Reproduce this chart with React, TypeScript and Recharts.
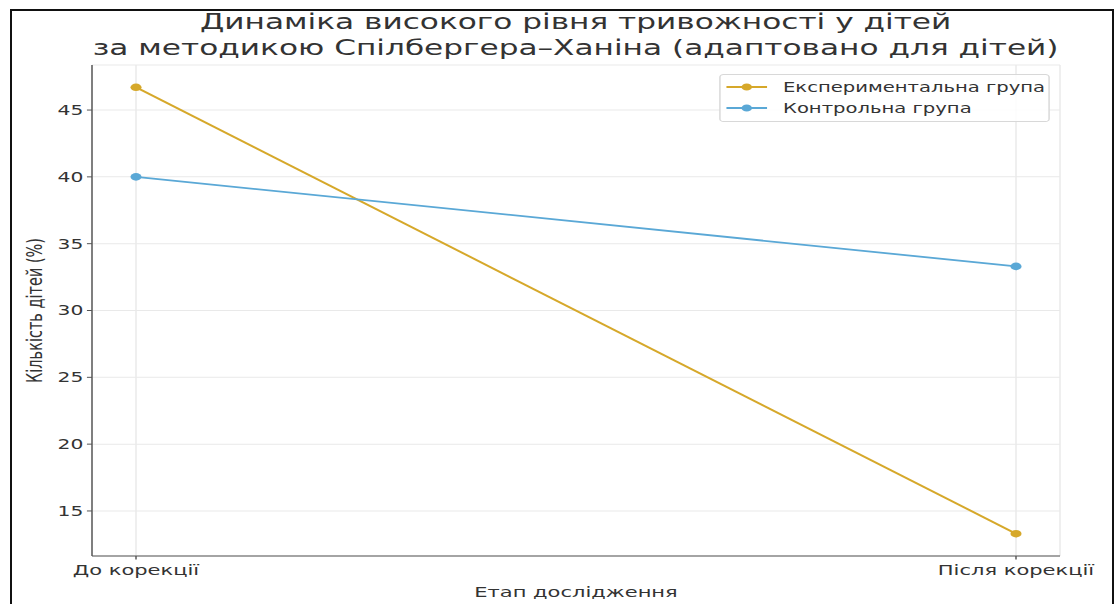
import React from "react";
import {
  LineChart,
  Line,
  XAxis,
  YAxis,
  CartesianGrid,
  Legend,
} from "recharts";

const stages = ["До корекції", "Після корекції"];
const experimentalGroup = [46.7, 13.3];
const controlGroup = [40.0, 33.3];
const yTicks = [15, 20, 25, 30, 35, 40, 45];

const titleLines = [
  "Динаміка високого рівня тривожності у дітей",
  "за методикою Спілбергера–Ханіна (адаптовано для дітей)",
];

const EXP_COLOR = "#d6a82a";
const CTRL_COLOR = "#5aa8d6";
const AXIS_COLOR = "#555";
const TEXT_COLOR = "#333";
const FONT = "'DejaVu Sans', sans-serif";

// The figure is drawn narrow and stretched sideways as a whole.
const STRETCH = 1.45;
const W = 1118 / STRETCH;
const H = 604;

const rows = stages.map((name, i) => ({
  stage: i,
  name,
  experimental: experimentalGroup[i],
  control: controlGroup[i],
}));

// matplotlib-style 5% margins around the data
const allValues = [...experimentalGroup, ...controlGroup];
const yMin = Math.min(...allValues);
const yMax = Math.max(...allValues);
const yPad = (yMax - yMin) * 0.05;

function XTick({ x, y, payload }: any) {
  const nx = Number(x);
  const ny = Number(y);
  return (
    <g>
      <line x1={nx} x2={nx} y1={ny} y2={ny + 3.5} stroke={AXIS_COLOR} />
      <text
        x={nx}
        y={ny + 19}
        textAnchor="middle"
        fontSize={14.5}
        fill={TEXT_COLOR}
        fontFamily={FONT}
      >
        {stages[payload.value]}
      </text>
    </g>
  );
}

function YTick({ x, y, payload }: any) {
  const nx = Number(x);
  const ny = Number(y);
  return (
    <g>
      <line x1={nx - 3.5} x2={nx} y1={ny} y2={ny} stroke={AXIS_COLOR} />
      <text
        x={nx - 6}
        y={ny + 5}
        textAnchor="end"
        fontSize={14}
        fill={TEXT_COLOR}
        fontFamily={FONT}
      >
        {payload.value}
      </text>
    </g>
  );
}

function LegendBox({ payload }: any) {
  return (
    <div
      style={{
        border: "1px solid #d8d8d8",
        borderRadius: 3,
        background: "rgba(255,255,255,0.85)",
        padding: "1px 0 3px 3px",
        fontFamily: FONT,
      }}
    >
      {(payload ?? []).map((entry: any) => (
        <div
          key={entry.value}
          style={{ display: "flex", alignItems: "center", height: 21 }}
        >
          <svg width={30} height={10}>
            <line x1={1} x2={29} y1={5} y2={5} stroke={entry.color} strokeWidth={1.8} />
            <circle cx={15} cy={5} r={3.6} fill={entry.color} />
          </svg>
          <span style={{ marginLeft: 10, fontSize: 13.5, color: TEXT_COLOR }}>
            {entry.value}
          </span>
        </div>
      ))}
    </div>
  );
}

export default function App() {
  return (
    <div
      style={{
        position: "fixed",
        left: 0,
        top: 0,
        width: 1118,
        height: 604,
        background: "#fff",
        overflow: "hidden",
      }}
    >
      <div
        style={{
          position: "absolute",
          left: 0,
          top: 0,
          width: W,
          height: H,
          transform: `scaleX(${STRETCH})`,
          transformOrigin: "0 0",
        }}
      >
        {titleLines.map((line, i) => (
          <div
            key={i}
            style={{
              position: "absolute",
              left: 0,
              width: 794,
              top: 9 + i * 26,
              lineHeight: "26px",
              textAlign: "center",
              fontFamily: FONT,
              fontSize: 21.5,
              color: TEXT_COLOR,
              whiteSpace: "nowrap",
            }}
          >
            {line}
          </div>
        ))}
        <LineChart
          width={W}
          height={H}
          data={rows}
          margin={{ top: 65, right: 40, bottom: 0, left: 0 }}
        >
          <CartesianGrid stroke="#e9e9e9" strokeWidth={1} />
          <XAxis
            dataKey="stage"
            type="number"
            domain={[-0.05, 1.05]}
            ticks={[0, 1]}
            allowDataOverflow
            height={48}
            stroke={AXIS_COLOR}
            tickLine={false}
            tickSize={0}
            tickMargin={0}
            tick={<XTick />}
            label={{
              content: ({ viewBox }: any) => (
                <text
                  x={viewBox.x + viewBox.width / 2}
                  y={viewBox.y + 41}
                  textAnchor="middle"
                  fontSize={14.5}
                  fill={TEXT_COLOR}
                  fontFamily={FONT}
                >
                  Етап дослідження
                </text>
              ),
            }}
          />
          <YAxis
            type="number"
            domain={[yMin - yPad, yMax + yPad]}
            ticks={yTicks}
            allowDataOverflow
            width={63.45}
            stroke={AXIS_COLOR}
            tickLine={false}
            tickSize={0}
            tickMargin={0}
            tick={<YTick />}
            label={{
              content: ({ viewBox }: any) => {
                const cy = viewBox.y + viewBox.height / 2;
                return (
                  <text
                    x={24}
                    y={cy}
                    transform={`rotate(-90, 24, ${cy})`}
                    textAnchor="middle"
                    dominantBaseline="central"
                    fontSize={14.5}
                    fill={TEXT_COLOR}
                    fontFamily={FONT}
                  >
                    Кількість дітей (%)
                  </text>
                );
              },
            }}
          />
          <Legend
            layout="horizontal"
            align="center"
            verticalAlign="middle"
            content={<LegendBox />}
            wrapperStyle={{ left: 496, top: 74, width: 228 }}
          />
          <Line
            type="linear"
            dataKey="experimental"
            name="Експериментальна група"
            stroke={EXP_COLOR}
            strokeWidth={1.8}
            dot={{ r: 3.8, fill: EXP_COLOR, stroke: EXP_COLOR, strokeWidth: 0 }}
            isAnimationActive={false}
          />
          <Line
            type="linear"
            dataKey="control"
            name="Контрольна група"
            stroke={CTRL_COLOR}
            strokeWidth={1.8}
            dot={{ r: 3.8, fill: CTRL_COLOR, stroke: CTRL_COLOR, strokeWidth: 0 }}
            isAnimationActive={false}
          />
        </LineChart>
      </div>
      <div
        style={{
          position: "absolute",
          left: 10,
          top: 9,
          width: 1104,
          height: 700,
          boxSizing: "border-box",
          border: "2px solid #111",
          borderBottom: "none",
          pointerEvents: "none",
        }}
      />
    </div>
  );
}
